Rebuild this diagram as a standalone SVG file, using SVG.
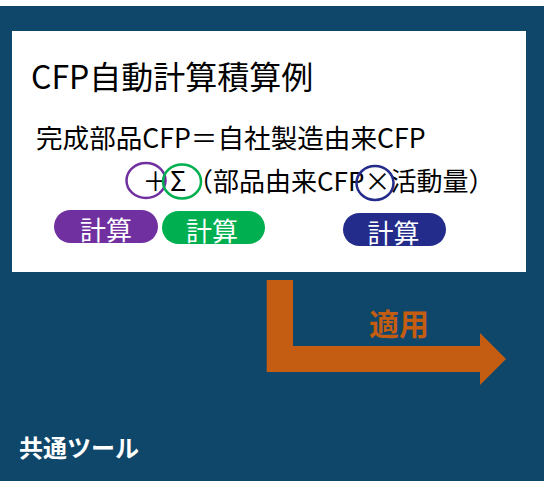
<svg xmlns="http://www.w3.org/2000/svg" width="544" height="481" viewBox="0 0 544 481">
<style>
.t{font-family:"Noto Sans CJK JP","Noto Sans",sans-serif;fill:#000}
.w{font-family:"Noto Sans CJK JP","Noto Sans",sans-serif;fill:#fff}
.ring{fill:none;stroke-width:2.5}
</style>
<rect x="0" y="0" width="544" height="481" fill="#fff"/>
<rect id="bg" x="0" y="6" width="544" height="475" fill="#0F476A"/>
<g id="panel">
<rect x="12" y="31" width="514" height="241" fill="#fff"/>
<text class="t" x="31" y="89" font-size="32">CFP自動計算積算例</text>
<text class="t" x="36" y="148" font-size="26.6">完成部品CFP＝自社製造由来CFP</text>
<text class="t" x="142.5" y="191" font-size="26">＋</text>
<text class="t" x="170" y="191" font-size="27">Σ</text>
<text class="t" x="187" y="191" font-size="26">（部品由来CFP×活動量）</text>
</g>
<g id="ring-plus"><ellipse class="ring" cx="146" cy="180.5" rx="19.5" ry="17.5" stroke="#7030A0"/></g>
<g id="ring-sigma"><ellipse class="ring" cx="182" cy="181.5" rx="19" ry="17" stroke="#00B050"/></g>
<g id="ring-times"><ellipse class="ring" cx="375" cy="183" rx="18.5" ry="17" stroke="#232C8B"/></g>
<g id="pill-purple"><rect x="54" y="210" width="104" height="33" rx="16.5" fill="#7030A0"/><text class="w" x="106" y="240" font-size="26" text-anchor="middle">計算</text></g>
<g id="pill-green"><rect x="162" y="211" width="103" height="33" rx="16.5" fill="#00B050"/><text class="w" x="212" y="241" font-size="26" text-anchor="middle">計算</text></g>
<g id="pill-blue"><rect x="343" y="213" width="103" height="33" rx="16.5" fill="#232C8B"/><text class="w" x="393.5" y="243" font-size="26" text-anchor="middle">計算</text></g>
<g id="connectors">
<path d="M266.7 280 H293 V346 H480 V333 L506 359 L480 385 V372 H266.7 Z" fill="#C45C11"/>
</g>
<text x="369" y="335" font-size="30" font-weight="bold" style="font-family:'Noto Sans CJK JP',sans-serif;fill:#C45C11">適用</text>
<text class="w" x="19" y="457" font-size="24" font-weight="bold">共通ツール</text>
</svg>
